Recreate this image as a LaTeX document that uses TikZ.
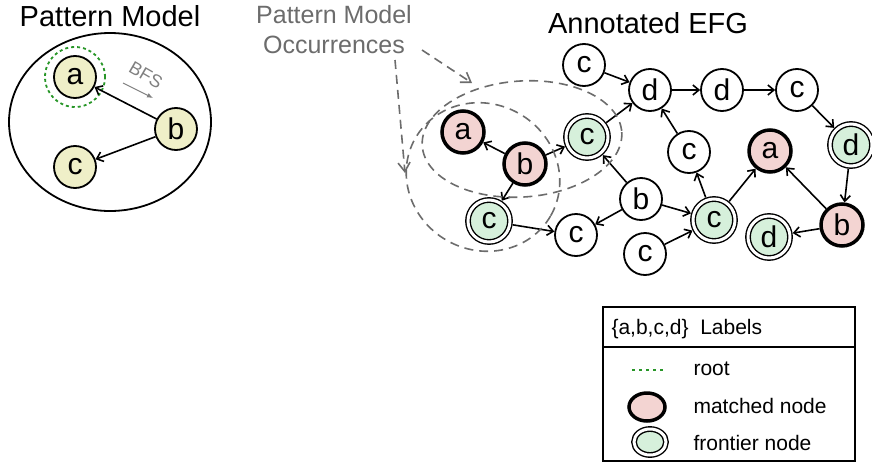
\documentclass[tikz,border=0pt]{standalone}
\usepackage{fontspec}
\setmainfont{Liberation Sans}
\usetikzlibrary{arrows.meta,shapes.geometric}
\definecolor{patyellow}{RGB}{239,239,200}
\definecolor{matchpink}{RGB}{243,212,210}
\definecolor{frontgreen}{RGB}{214,240,219}
\definecolor{rootgreen}{RGB}{40,150,40}
\tikzset{
	title/.style = {font=\fontsize{29}{34}\selectfont},
	vertex/.style = {% plain EFG vertex
		circle,
		draw=black,
		fill=#1,
		line width=1.8pt,
		minimum size=42pt,
		inner sep=0pt,
		font=\fontsize{30}{34}\selectfont
	},
	vertex/.default = {white},
	matched/.style = {vertex=matchpink, line width=3.5pt},
	frontier/.style = {% double ring
		vertex=frontgreen,
		line width=1.4pt,
		double=white,
		double distance=3pt,
		outer sep=3pt
	},
	arr/.style = {-{Straight Barb[length=6pt,width=10pt]}, line width=1.6pt},
	occ/.style = {gray!85!black, dashed, dash pattern=on 9pt off 6pt, line width=1.6pt},
	legend/.style = {font=\fontsize{21}{25}\selectfont}
}

\begin{document}
\begin{tikzpicture}[x=1pt,y=-1pt]
	\useasboundingbox (0,0) rectangle (872,463);

	% pattern model
	\node[title, anchor=base] (ptitle) at (110,27) {Pattern Model};
	\draw[line width=1.8pt] (110,122) ellipse [x radius=101, y radius=89];
	\node[vertex=patyellow] (pa) at (75,77) {a};
	\node[vertex=patyellow] (pb) at (176,129) {b};
	\node[vertex=patyellow] (pc) at (75,167) {c};
	\node[circle, draw=rootgreen, dashed, dash pattern=on 3pt off 3pt, line width=1.8pt,
		minimum size=60pt] (root) at (pa) {};
	\draw[arr] (pb) -- (pa);
	\draw[arr] (pb) -- (pc);
	\node[text=gray, rotate=-30, font=\fontsize{18}{20}\selectfont] (bfs) at (146,75) {BFS};
	\coordinate (bfsS) at (123,83);
	\coordinate (bfsE) at (153,98);
	\draw[gray, line width=1pt, -{Latex[length=6pt,width=5pt]}] (bfsS) -- (bfsE);

	% annotated EFG
	\node[title, anchor=base] (etitle) at (648,33) {Annotated EFG};
	\node[matched] (a1) at (463,132) {a};
	\node[matched] (b1) at (525,164) {b};
	\node[frontier] (c1) at (587,137) {c};
	\node[frontier] (c2) at (489,221) {c};
	\node[vertex] (c3) at (576,235) {c};
	\node[vertex] (c4) at (584,65) {c};
	\node[vertex] (d1) at (650,90) {d};
	\node[vertex] (d2) at (722,90) {d};
	\node[vertex] (c5) at (797,90) {c};
	\node[frontier] (d3) at (851,145) {d};
	\node[vertex] (c6) at (689,152) {c};
	\node[matched] (a2) at (770,151) {a};
	\node[vertex] (b2) at (641,199) {b};
	\node[frontier] (c7) at (714,220) {c};
	\node[vertex] (c8) at (645,254) {c};
	\node[frontier] (d4) at (769,237) {d};
	\node[matched] (b3) at (842,225) {b};

	\draw[arr] (b1) -- (a1);
	\draw[arr] (b1) -- (c1);
	\draw[arr] (b1) -- (c2);
	\draw[arr] (c2) -- (c3);
	\draw[arr] (c4) -- (d1);
	\draw[arr] (c1) -- (d1);
	\draw[arr] (c6) -- (d1);
	\draw[arr] (d1) -- (d2);
	\draw[arr] (d2) -- (c5);
	\draw[arr] (c5) -- (d3);
	\draw[arr] (d3) -- (b3);
	\draw[arr] (b3) -- (a2);
	\draw[arr] (b3) -- (d4);
	\draw[arr] (b2) -- (c1);
	\draw[arr] (b2) -- (c3);
	\draw[arr] (b2) -- (c7);
	\draw[arr] (c8) -- (c7);
	\draw[arr] (c7) -- (c6);
	\draw[arr] (c7) -- (a2);

	% occurrences
	\draw[occ] (522,139) ellipse [x radius=100, y radius=58, rotate=4];
	\draw[occ] (483,177) ellipse [x radius=78, y radius=73, rotate=-30];
	\node[text=gray!85!black, align=center, font=\fontsize{25}{30}\selectfont] (occtext) at (334,30)
		{Pattern Model\\Occurrences};
	\coordinate (o1s) at (422,50);
	\coordinate (o1e) at (472,83);
	\coordinate (o2s) at (395,60);
	\coordinate (o2e) at (405,173);
	\draw[occ, -{Straight Barb[length=9pt,width=12pt]}] (o1s) -- (o1e);
	\draw[occ, -{Straight Barb[length=9pt,width=12pt]}] (o2s) -- (o2e);

	% legend
	\draw[line width=1.6pt] (603,307) rectangle (855,461);
	\draw[line width=1.6pt] (603,347) -- (855,347);
	\node[legend, anchor=base west] (lhead) at (608,334) {\{a,b,c,d\}\ \ Labels};
	\coordinate (rootS) at (632,370);
	\coordinate (rootE) at (663,370);
	\draw[rootgreen, dashed, dash pattern=on 3pt off 4pt, line width=1.5pt] (rootS) -- (rootE);
	\node[legend, anchor=base west] (lroot) at (690,375) {root};
	\node[ellipse, draw, fill=matchpink, line width=3.5pt, minimum width=36pt, minimum height=28pt,
		inner sep=0pt] (lmatch) at (647,407) {};
	\node[legend, anchor=base west] (lmtext) at (690,413) {matched node};
	\node[ellipse, draw, fill=frontgreen, line width=1.4pt, double=white, double distance=3pt,
		minimum width=32pt, minimum height=26pt, inner sep=0pt] (lfront) at (650,442) {};
	\node[legend, anchor=base west] (lftext) at (690,450) {frontier node};
\end{tikzpicture}
\end{document}
